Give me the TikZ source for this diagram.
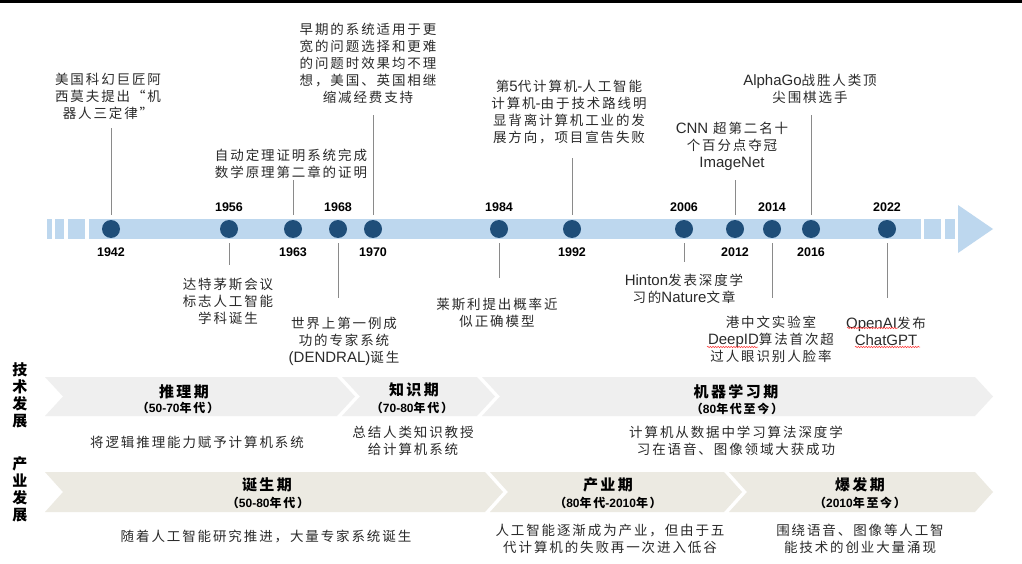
\documentclass[tikz,border=0pt]{standalone}
\usepackage{fontspec}
\setmainfont{Liberation Sans}
\newfontfamily\cjk[LetterSpace=14]{Noto Sans CJK SC}
\newfontfamily\cjkh[LetterSpace=16]{Noto Sans CJK SC}
\newfontfamily\latf{Liberation Sans}
\usetikzlibrary{calc,decorations.pathmorphing}
\definecolor{barblue}{HTML}{BDD7EE}
\definecolor{dotblue}{HTML}{1F4E79}
\definecolor{stemgray}{HTML}{8A8A8A}
\definecolor{bandA}{HTML}{EFEFEF}
\definecolor{bandB}{HTML}{ECEAE2}
\definecolor{txtc}{HTML}{2A2A2A}
\newcommand\lat[1]{{\latf\fontsize{15}{17}\selectfont #1}}
\newcommand\num[1]{{\latf #1}}
\tikzset{
  txt/.style={align=center, inner sep=0pt, text=txtc, font=\cjk\fontsize{13.5}{17}\selectfont},
  head/.style={align=center, inner sep=0pt, text=black, font=\cjkh\bfseries\fontsize{15}{17}\selectfont},
  sub/.style={align=center, inner sep=0pt, text=black, font=\cjk\bfseries\fontsize{12}{14}\selectfont},
  vlab/.style={align=center, inner sep=0pt, text=black, font=\cjk\bfseries\fontsize{15}{17}\selectfont},
  yr/.style={inner sep=0pt, text=black, font=\latf\bfseries\fontsize{12.5}{14}\selectfont},
  dot/.style={circle, fill=dotblue, minimum size=18pt, inner sep=0pt},
  stem/.style={draw=stemgray, line width=0.9pt},
  squig/.style={draw=red!80, line width=0.5pt, decorate, decoration={snake, amplitude=0.7pt, segment length=2.6pt}}
}
\begin{document}
\begin{tikzpicture}[x=1pt,y=-1pt]
\useasboundingbox (0,0) rectangle (1022,564);
\fill[white] (0,0) rectangle (1022,564);
\fill[black] (0,0) rectangle (1022,3.5);

% timeline bar
\fill[barblue] (47,219) rectangle (52,239);
\fill[barblue] (55,219) rectangle (64,239);
\fill[barblue] (68,219) rectangle (85,239);
\fill[barblue] (89,219) rectangle (921,239);
\fill[barblue] (924,219) rectangle (941,239);
\fill[barblue] (945,219) rectangle (955,239);
\fill[barblue] (958,205) -- (993,229) -- (958,253) -- cycle;

% dots
\foreach \n/\x in {42/111,56/229,63/293,68/338,70/373,84/499,92/572,06/684,12/735,14/772,16/811,22/887}
  \node[dot] (d\n) at (\x,229) {};

% years above
\node[yr] (y56) at (229,207) {1956};
\node[yr] (y68) at (338,207) {1968};
\node[yr] (y84) at (499,207) {1984};
\node[yr] (y06) at (684,207) {2006};
\node[yr] (y14) at (772,207) {2014};
\node[yr] (y22) at (887,207) {2022};
% years below
\node[yr] (y42) at (111,252) {1942};
\node[yr] (y63) at (293,252) {1963};
\node[yr] (y70) at (373,252) {1970};
\node[yr] (y92) at (572,252) {1992};
\node[yr] (y12) at (735,252) {2012};
\node[yr] (y16) at (811,252) {2016};

% events above
\node[txt] (e42) at (108,96) {美国科幻巨匠阿\\西莫夫提出“机\\器人三定律”};
\node[txt] (e63) at (291,163.5) {自动定理证明系统完成\\数学原理第二章的证明};
\node[txt] (e70) at (368,63) {早期的系统适用于更\\宽的问题选择和更难\\的问题时效果均不理\\想，美国、英国相继\\缩减经费支持};
\node[txt] (e92) at (569,112) {第\lat{5}代计算机\lat{-}人工智能\\计算机\lat{-}由于技术路线明\\显背离计算机工业的发\\展方向，项目宣告失败};
\node[txt] (e12) at (732,146.5) {\lat{CNN} 超第二名十\\个百分点夺冠\\\lat{ImageNet}};
\node[txt] (e16) at (810,89) {\lat{AlphaGo}战胜人类顶\\尖围棋选手};
% events below
\node[txt] (e56) at (228,301) {达特茅斯会议\\标志人工智能\\学科诞生};
\node[txt] (e68) at (344,341) {世界上第一例成\\功的专家系统\\\lat{(DENDRAL)}诞生};
\node[txt] (e84) at (497,312.5) {莱斯利提出概率近\\似正确模型};
\node[txt] (e06) at (684,289) {\lat{Hinton}发表深度学\\习的\lat{Nature}文章};
\node[txt] (e14) at (771,339.5) {港中文实验室\\\lat{DeepID}算法首次超\\过人眼识别人脸率};
\node[txt] (e22) at (886,331) {\lat{OpenAI}发布\\\lat{ChatGPT}};

% stems up
\coordinate (s42) at (111,128);
\coordinate (s63) at (293,180);
\coordinate (s70) at (373,115);
\coordinate (s92) at (572,158);
\coordinate (s12) at (735,180);
\coordinate (s16) at (811,115);
\foreach \n in {42,63,70,92,12,16}
  \draw[stem] ([yshift=5pt]d\n.north) -- (s\n);
% stems down
\coordinate (s56) at (229,265);
\coordinate (s68) at (338,298);
\coordinate (s84) at (499,278);
\coordinate (s06) at (684,262);
\coordinate (s14) at (772,298);
\coordinate (s22) at (887,298);
\foreach \n in {56,68,84,06,14,22}
  \draw[stem] ([yshift=-5pt]d\n.south) -- (s\n);

% spell-check squiggles
\draw[squig] (707,347) -- (758,347);
\draw[squig] (847,328) -- (898,328);
\draw[squig] (855,347) -- (920,347);

% bands row 1
\fill[bandA] (45,377) -- (337,377) -- (355,396.5) -- (337,416) -- (45,416) -- (63,396.5) -- cycle;
\fill[bandA] (342,377) -- (477,377) -- (495,396.5) -- (477,416) -- (342,416) -- (360,396.5) -- cycle;
\fill[bandA] (482,377) -- (975,377) -- (993,396.5) -- (975,416) -- (482,416) -- (500,396.5) -- cycle;
% bands row 2
\fill[bandB] (45,472) -- (485,472) -- (503,492) -- (485,512) -- (45,512) -- (63,492) -- cycle;
\fill[bandB] (490,472) -- (724,472) -- (742,492) -- (724,512) -- (490,512) -- (508,492) -- cycle;
\fill[bandB] (729,472) -- (975,472) -- (993,492) -- (975,512) -- (729,512) -- (747,492) -- cycle;

% vertical labels
\node[vlab] (v1) at (20,395.5) {技\\术\\发\\展};
\node[vlab] (v2) at (20,489.5) {产\\业\\发\\展};

% band texts
\node[head] (h1) at (184,392) {推理期};
\node[sub] (p1) at (178,408) {（\num{50-70}年代）};
\node[head] (h2) at (414,390) {知识期};
\node[sub] (p2) at (412,408) {（\num{70-80}年代）};
\node[head] (h3) at (736,392) {机器学习期};
\node[sub] (p3) at (737,409) {（\num{80}年代至今）};
\node[head] (h4) at (267,485) {诞生期};
\node[sub] (p4) at (268,503) {（\num{50-80}年代）};
\node[head] (h5) at (608,485) {产业期};
\node[sub] (p5) at (608,503) {（\num{80}年代\num{-2010}年）};
\node[head] (h6) at (860,485) {爆发期};
\node[sub] (p6) at (860,503) {（\num{2010}年至今）};

% descriptions
\node[txt] (t1) at (197,442) {将逻辑推理能力赋予计算机系统};
\node[txt] (t2) at (413,441) {总结人类知识教授\\给计算机系统};
\node[txt] (t3) at (736,441) {计算机从数据中学习算法深度学\\习在语音、图像领域大获成功};
\node[txt] (t4) at (266,537) {随着人工智能研究推进，大量专家系统诞生};
\node[txt] (t5) at (610,538.5) {人工智能逐渐成为产业，但由于五\\代计算机的失败再一次进入低谷};
\node[txt] (t6) at (860,538.5) {围绕语音、图像等人工智\\能技术的创业大量涌现};
\end{tikzpicture}
\end{document}
